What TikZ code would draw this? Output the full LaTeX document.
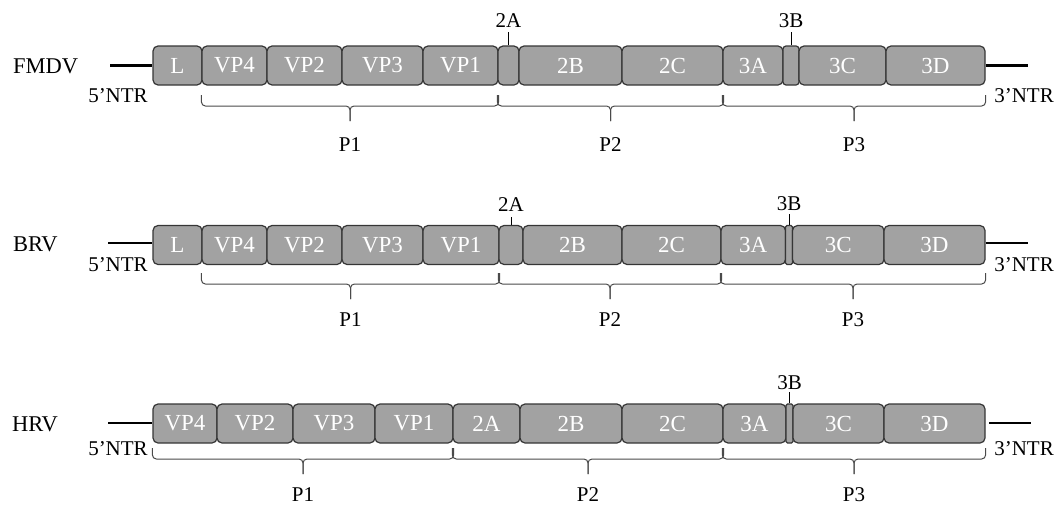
\documentclass[tikz,border=0pt]{standalone}
\usepackage{fontspec}
\setmainfont{Liberation Serif}
\usetikzlibrary{calc}
\definecolor{segfill}{HTML}{A2A2A2}
\definecolor{segline}{HTML}{363636}
\definecolor{bracecol}{HTML}{4A4A4A}
\tikzset{
  seg/.style={draw=segline, line width=1.2pt, fill=segfill, rounded corners=5pt,
    minimum height=39pt, inner sep=0pt, text=white, font=\fontsize{23}{27}\selectfont},
  lbl/.style={inner sep=0pt, font=\fontsize{21}{25}\selectfont, anchor=base},
  rowname/.style={inner sep=0pt, font=\fontsize{22.5}{27}\selectfont, anchor=base west},
  stem/.style={line width=2.2pt},
  tick/.style={line width=1pt},
  brace/.style={draw=bracecol, line width=1pt, rounded corners=4pt},
}
% one genome segment: [options]{name}{left x}{right x}{centre y}{text}
\newcommand\seg[6][]{\node[seg, minimum width=#4-#3, #1] (#2) at ({(#3+#4)/2},#5) {#6};}
% polyprotein brace: {left anchor}{right anchor}{line y}{label base y}{name}{text}
\newcommand\pbrace[6]{%
  \coordinate (#5-l) at (#1 |- 0,#3);
  \coordinate (#5-r) at (#2 |- 0,#3);
  \coordinate (#5-m) at ($(#5-l)!.5!(#5-r)$);
  \draw[brace] ($(#5-l)+(0,-11)$) -- (#5-l) -- (#5-m) -- ($(#5-m)+(0,15)$);
  \draw[brace] ($(#5-r)+(0,-11)$) -- (#5-r) -- (#5-m) -- ($(#5-m)+(0,15)$);
  \node[lbl] (#5) at (#5-m |- 0,#4) {#6};
}
\begin{document}
\begin{tikzpicture}[x=1pt,y=-1pt]
\useasboundingbox (0,0) rectangle (1056,506);

% ---------------- FMDV ----------------
\node[rowname] (f-name) at (13,73) {FMDV};
\coordinate (f-5end) at (110,65.5);
\coordinate (f-3end) at (1028,65.5);
\seg{f-L}{153}{202}{65.5}{L}
\seg{f-VP4}{202}{267}{65.5}{VP4}
\seg{f-VP2}{267}{342}{65.5}{VP2}
\seg{f-VP3}{342}{423}{65.5}{VP3}
\seg{f-VP1}{423}{498}{65.5}{VP1}
\seg{f-2A}{498}{519}{65.5}{}
\seg{f-2B}{519}{622}{65.5}{2B}
\seg{f-2C}{622}{723}{65.5}{2C}
\seg{f-3A}{723}{783}{65.5}{3A}
\seg[rounded corners=3pt]{f-3B}{783}{799}{65.5}{}
\seg{f-3C}{799}{886}{65.5}{3C}
\seg{f-3D}{886}{985}{65.5}{3D}
\draw[stem] (f-5end) -- (f-L);
\draw[stem] (f-3D) -- (f-3end);
\node[lbl] (f-5ntr) at (118,102.5) {5’NTR};
\node[lbl] (f-3ntr) at (1024,102.5) {3’NTR};
\draw[tick] (f-2A.north) -- ++(0,-13) coordinate (f-2At);
\node[lbl] (f-2Al) at ($(f-2At)+(0,-5)$) {2A};
\draw[tick] (f-3B.north) -- ++(0,-13) coordinate (f-3Bt);
\node[lbl] (f-3Bl) at ($(f-3Bt)+(0,-5)$) {3B};
\pbrace{f-VP4.south west}{f-VP1.south east}{106}{151.5}{f-P1}{P1}
\pbrace{f-2A.south west}{f-2C.south east}{106}{151.5}{f-P2}{P2}
\pbrace{f-3A.south west}{f-3D.south east}{106}{151.5}{f-P3}{P3}

% ---------------- BRV ----------------
\node[rowname] (b-name) at (13,251.5) {BRV};
\coordinate (b-5end) at (108,243);
\coordinate (b-3end) at (1028,243);
\seg{b-L}{153}{202}{245}{L}
\seg{b-VP4}{202}{267}{245}{VP4}
\seg{b-VP2}{267}{342}{245}{VP2}
\seg{b-VP3}{342}{423}{245}{VP3}
\seg{b-VP1}{423}{499}{245}{VP1}
\seg{b-2A}{499}{523}{245}{}
\seg{b-2B}{523}{622}{245}{2B}
\seg{b-2C}{622}{721}{245}{2C}
\seg{b-3A}{721}{785.5}{245}{3A}
\seg[rounded corners=1.5pt]{b-3B}{785.5}{792.5}{245}{}
\seg{b-3C}{792.5}{884}{245}{3C}
\seg{b-3D}{884}{985}{245}{3D}
\draw[stem] (b-5end) -- (b-L.west |- b-5end);
\draw[stem] (b-3D.east |- b-3end) -- (b-3end);
\node[lbl] (b-5ntr) at (118,271) {5’NTR};
\node[lbl] (b-3ntr) at (1024,271) {3’NTR};
\draw[tick] (b-2A.north) -- ++(0,-8) coordinate (b-2At);
\node[lbl] (b-2Al) at ($(b-2At)+(0,-5)$) {2A};
\draw[tick] (b-3B.north) -- ++(0,-11) coordinate (b-3Bt);
\node[lbl] (b-3Bl) at ($(b-3Bt)+(0,-3)$) {3B};
\pbrace{b-VP4.south west}{b-VP1.south east}{284}{326.5}{b-P1}{P1}
\pbrace{b-2A.south west}{b-2C.south east}{284}{326.5}{b-P2}{P2}
\pbrace{b-3A.south west}{b-3D.south east}{284}{326.5}{b-P3}{P3}

% ---------------- HRV ----------------
\node[rowname] (h-name) at (12,431.5) {HRV};
\coordinate (h-5end) at (108,423);
\coordinate (h-3start) at (989,423);
\coordinate (h-3end) at (1031,423);
\seg{h-VP4}{153}{217}{423.5}{VP4}
\seg{h-VP2}{217}{293}{423.5}{VP2}
\seg{h-VP3}{293}{375}{423.5}{VP3}
\seg{h-VP1}{375}{453}{423.5}{VP1}
\seg{h-2A}{453}{520}{423.5}{2A}
\seg{h-2B}{520}{622}{423.5}{2B}
\seg{h-2C}{622}{723}{423.5}{2C}
\seg{h-3A}{723}{786}{423.5}{3A}
\seg[rounded corners=1.5pt]{h-3B}{786}{793}{423.5}{}
\seg{h-3C}{793}{884}{423.5}{3C}
\seg{h-3D}{884}{985}{423.5}{3D}
\draw[stem] (h-5end) -- (h-VP4.west |- h-5end);
\draw[stem] (h-3start) -- (h-3end);
\node[lbl] (h-5ntr) at (118,455) {5’NTR};
\node[lbl] (h-3ntr) at (1024,455) {3’NTR};
\draw[tick] (h-3B.north) -- ++(0,-11) coordinate (h-3Bt);
\node[lbl] (h-3Bl) at ($(h-3Bt)+(0,-3)$) {3B};
\pbrace{h-VP4.south west}{h-VP1.south east}{459}{501.5}{h-P1}{P1}
\pbrace{h-2A.south west}{h-2C.south east}{459}{501.5}{h-P2}{P2}
\pbrace{h-3A.south west}{h-3D.south east}{459}{501.5}{h-P3}{P3}
\end{tikzpicture}
\end{document}
